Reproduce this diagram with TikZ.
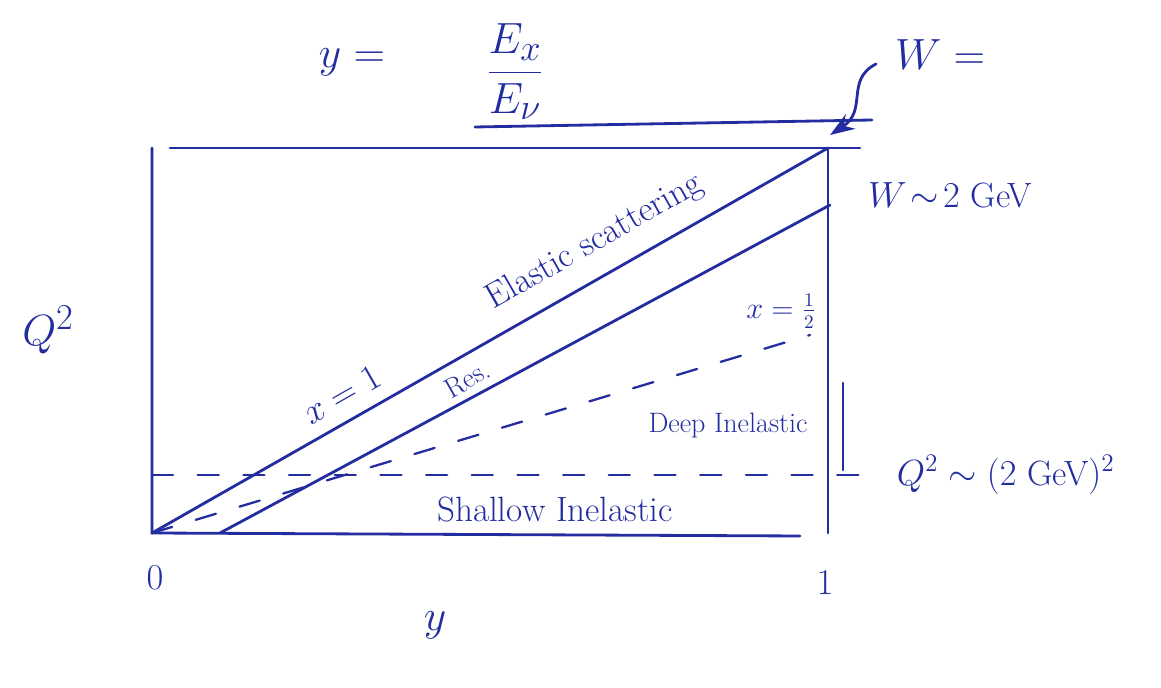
\documentclass[tikz,border=0pt]{standalone}
\usepackage{tikz}
\usetikzlibrary{positioning, arrows.meta, calc}
\usepackage{amsmath}
\definecolor{pen}{RGB}{35,45,160}

\begin{document}
\begin{tikzpicture}[
    x=0.02cm, y=-0.02cm,
    every node/.style={text=pen},
    edge/.style={draw=pen, line width=1.6pt, line cap=round},
    cut/.style={draw=pen, line width=1.3pt, line cap=round, dash pattern=on 12pt off 14pt},
    lab/.style={font=\fontsize{20}{24}\selectfont},
    small/.style={font=\fontsize{16}{19}\selectfont},
    big/.style={font=\fontsize{30}{36}\selectfont}
]
    \useasboundingbox (0,0) rectangle (1161,688);

    % corners of the region
    \coordinate (O) at (152,533);
    \coordinate (TL) at (152,148);
    \coordinate (TR) at (828,148);
    \coordinate (BR) at (828,533);

    % box
    \draw[edge] (TL) -- (O) -- (800,536);
    \draw[edge] (TR) -- (BR);
    \draw[edge] (170,148) -- (860,148);
    \draw[edge] (475,127) -- (872,120);
    \draw[edge] (843,383) -- (843,470);

    % x = 1 line
    \draw[edge] (O) -- (TR)
        node[pos=0.3, sloped, above=4pt, lab] (xone) {$x=1$}
        node[pos=0.68, sloped, above=6pt, lab] (elastic) {Elastic scattering}
        node[pos=0.45, sloped, below=3pt, small] (res) {Res.};

    % W ~ 2 GeV line
    \coordinate (w0) at (220,533);
    \coordinate (w1) at (830,205);
    \draw[edge] (w0) -- (w1);
    \node[lab] (wlab) at (950,195) {$W\!\sim\!2$ GeV};

    % x = 1/2 and Q^2 cuts
    \coordinate (h1) at (810,335);
    \draw[cut] (O) -- (h1);
    \node[small, anchor=south east] (xhalf) at (822,335) {$x=\frac{1}{2}$};
    \coordinate (q0) at (152,475);
    \coordinate (q1) at (880,475);
    \draw[cut] (q0) -- (q1);
    \node[lab, right=6pt of q1] (qlab) {$Q^2\sim(2\ \text{GeV})^2$};

    % regions
    \node[small] (deep) at (728,425) {Deep Inelastic};
    \node[lab] (shallow) at (555,510) {Shallow Inelastic};

    % W at the corner
    \node[big] (wtop) at (940,55) {$W=$};
    \coordinate (wfrom) at (876,64);
    \draw[edge, -{Stealth[length=14pt, width=10pt]}] (wfrom) .. controls (845,80) and (868,110) .. (830,135);

    % axes labels
    \node[big] (qsq) at (48,330) {$Q^2$};
    \node[lab] (zero) at (155,578) {$0$};
    \node[lab] (one) at (825,583) {$1$};
    \node[big] (yax) at (435,625) {$y$};

    % definition of y
    \node[big] (ydef) at (352,62) {$y=$};
    \node[big] (frac) at (515,72) {$\dfrac{E_x}{E_\nu}$};
\end{tikzpicture}
\end{document}
